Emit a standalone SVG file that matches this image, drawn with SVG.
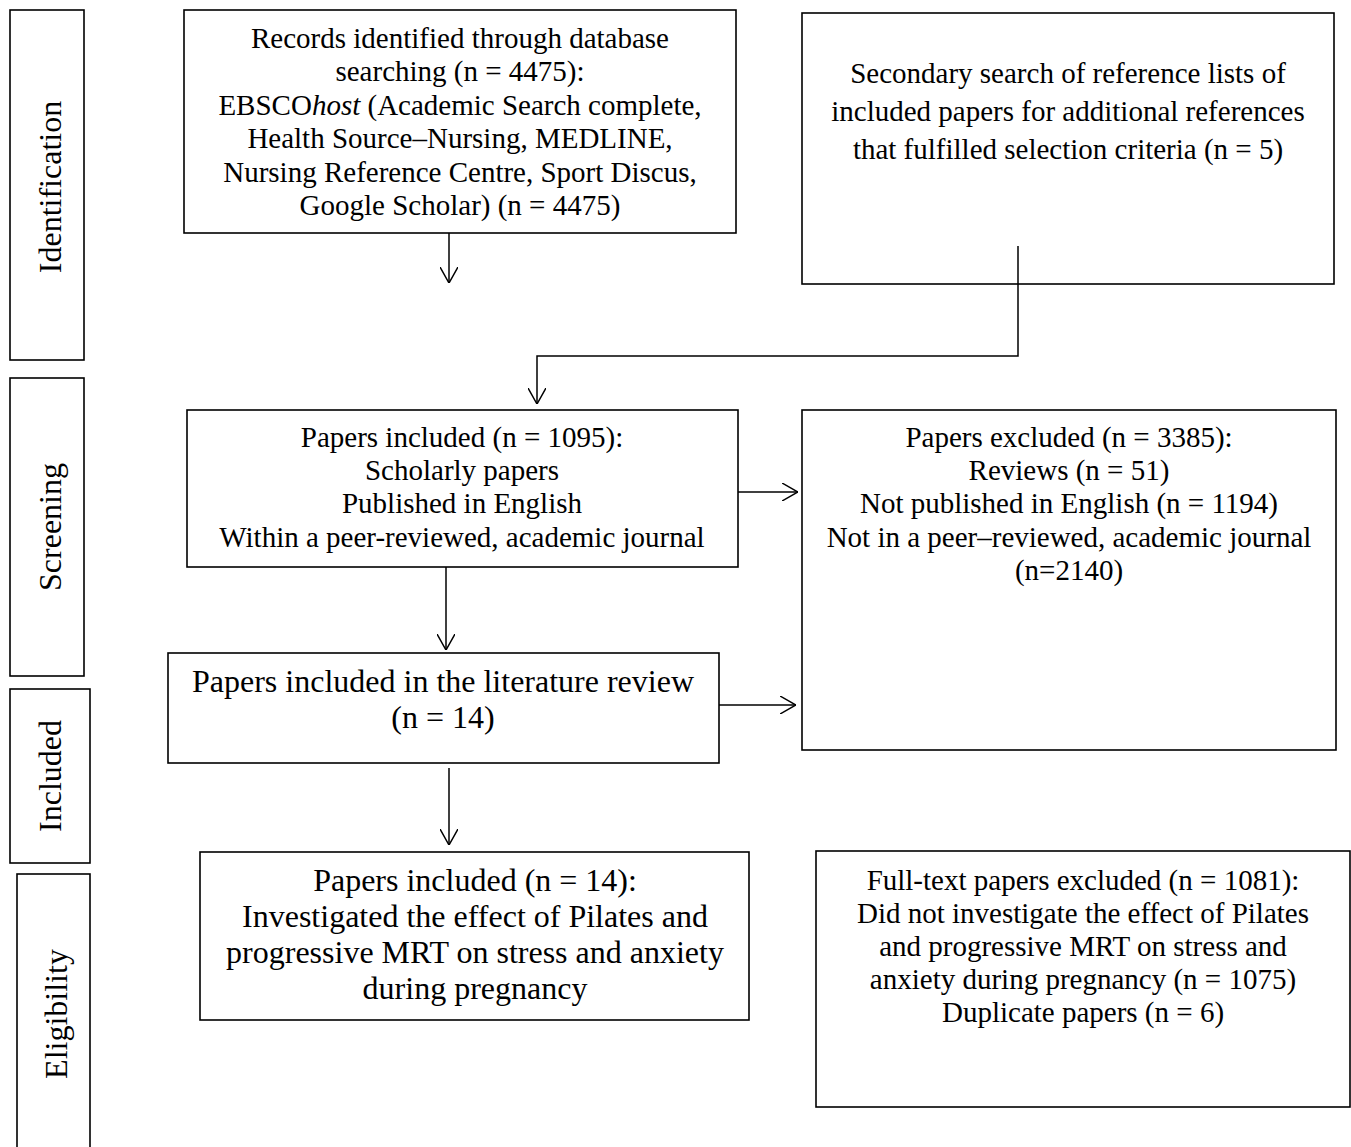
<svg xmlns="http://www.w3.org/2000/svg" width="1351" height="1147" viewBox="0 0 1351 1147">
<style>
.box{fill:#fff;stroke:#000;stroke-width:1.6}
.t{font-family:"Liberation Serif","Times New Roman",serif;font-size:29px;fill:#000;text-anchor:middle}
.l{font-size:32px}
.c{fill:none;stroke:#000;stroke-width:1.5}
</style>
<defs>
<marker id="ah" viewBox="0 0 16 18" refX="16" refY="9" markerWidth="16" markerHeight="18" markerUnits="userSpaceOnUse" orient="auto">
<path d="M0,0 L16,9 L0,18" fill="none" stroke="#000" stroke-width="1.5"/>
</marker>
</defs>
<rect width="1351" height="1147" fill="#fff"/>

<g id="stage-identification">
<rect class="box" x="10" y="10" width="74" height="350"/>
<text class="t l" transform="translate(61,187) rotate(-90)">Identification</text>
</g>
<g id="stage-screening">
<rect class="box" x="10" y="378" width="74" height="298"/>
<text class="t l" transform="translate(61,527) rotate(-90)">Screening</text>
</g>
<g id="stage-included">
<rect class="box" x="10" y="689" width="80" height="174"/>
<text class="t l" transform="translate(61,776) rotate(-90)">Included</text>
</g>
<g id="stage-eligibility">
<rect class="box" x="17" y="874" width="73" height="290"/>
<text class="t l" transform="translate(67,1014) rotate(-90)">Eligibility</text>
</g>

<g id="records">
<rect class="box" x="184" y="10" width="552" height="223"/>
<text class="t" x="460" y="48">Records identified through database</text>
<text class="t" x="460" y="81">searching (n = 4475):</text>
<text class="t" x="460" y="115">EBSCO<tspan font-style="italic">host</tspan> (Academic Search complete,</text>
<text class="t" x="460" y="148">Health Source–Nursing, MEDLINE,</text>
<text class="t" x="460" y="182">Nursing Reference Centre, Sport Discus,</text>
<text class="t" x="460" y="215">Google Scholar) (n = 4475)</text>
</g>

<g id="secondary">
<rect class="box" x="802" y="13" width="532" height="271"/>
<text class="t" x="1068" y="83">Secondary search of reference lists of</text>
<text class="t" x="1068" y="121">included papers for additional references</text>
<text class="t" x="1068" y="159">that fulfilled selection criteria (n = 5)</text>
</g>

<g id="included-1095">
<rect class="box" x="187" y="410" width="551" height="157"/>
<text class="t" x="462" y="447">Papers included (n = 1095):</text>
<text class="t" x="462" y="480">Scholarly papers</text>
<text class="t" x="462" y="513">Published in English</text>
<text class="t" x="462" y="547">Within a peer-reviewed, academic journal</text>
</g>

<g id="excluded-3385">
<rect class="box" x="802" y="410" width="534" height="340"/>
<text class="t" x="1069" y="447">Papers excluded (n = 3385):</text>
<text class="t" x="1069" y="480">Reviews (n = 51)</text>
<text class="t" x="1069" y="513">Not published in English (n = 1194)</text>
<text class="t" x="1069" y="547">Not in a peer–reviewed, academic journal</text>
<text class="t" x="1069" y="580">(n=2140)</text>
</g>

<g id="literature-review">
<rect class="box" x="168" y="653" width="551" height="110"/>
<text class="t l" x="443" y="692">Papers included in the literature review</text>
<text class="t l" x="443" y="728">(n = 14)</text>
</g>

<g id="included-14">
<rect class="box" x="200" y="852" width="549" height="168"/>
<text class="t l" x="475" y="891">Papers included (n = 14):</text>
<text class="t l" x="475" y="927">Investigated the effect of Pilates and</text>
<text class="t l" x="475" y="963">progressive MRT on stress and anxiety</text>
<text class="t l" x="475" y="999">during pregnancy</text>
</g>

<g id="fulltext-excluded">
<rect class="box" x="816" y="851" width="534" height="256"/>
<text class="t" x="1083" y="890">Full-text papers excluded (n = 1081):</text>
<text class="t" x="1083" y="923">Did not investigate the effect of Pilates</text>
<text class="t" x="1083" y="956">and progressive MRT on stress and</text>
<text class="t" x="1083" y="989">anxiety during pregnancy (n = 1075)</text>
<text class="t" x="1083" y="1022">Duplicate papers (n = 6)</text>
</g>

<g id="connectors">
<path class="c" d="M449,233 V283" marker-end="url(#ah)"/>
<path class="c" d="M1018,246 V356 H537 V404" marker-end="url(#ah)"/>
<path class="c" d="M738,492 H798" marker-end="url(#ah)"/>
<path class="c" d="M446,567 V650" marker-end="url(#ah)"/>
<path class="c" d="M719,705 H796" marker-end="url(#ah)"/>
<path class="c" d="M449,768 V845" marker-end="url(#ah)"/>
</g>
</svg>
